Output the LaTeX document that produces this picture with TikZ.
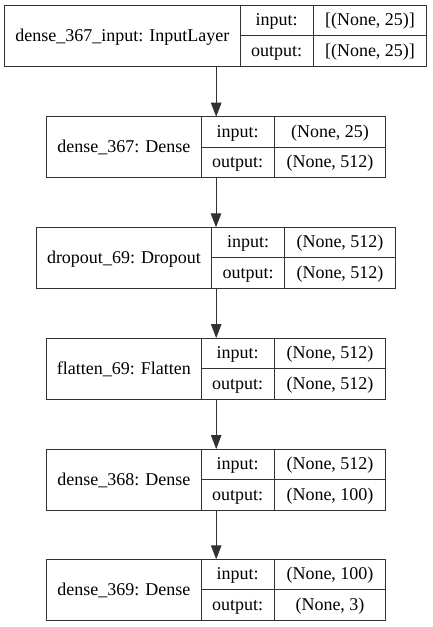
\documentclass[tikz,border=0pt]{standalone}
\usepackage{fontspec}
\setmainfont{Liberation Serif}
\usetikzlibrary{arrows.meta}
\definecolor{ln}{RGB}{50,50,50}
\tikzset{
  box/.style={draw=ln, line width=1pt, rectangle, inner sep=0pt, outer sep=0pt, anchor=north west},
  cell/.style={draw=ln, line width=1pt},
  txt/.style={font=\fontsize{18pt}{20pt}\selectfont, inner sep=0pt, anchor=base, text=black},
  arr/.style={draw=ln, line width=1pt, -{Triangle[length=14pt,width=10.5pt]}}
}
\newcommand\layer[9]{%
  \node[box, minimum width={#6pt-#3pt}, minimum height=61pt] (#1) at (#3pt,-#2pt) {};
  \draw[cell] (#4pt,-#2pt) -- (#4pt,-#2pt-61pt);
  \draw[cell] (#5pt,-#2pt) -- (#5pt,-#2pt-61pt);
  \draw[cell] (#4pt,-#2pt-30.5pt) -- (#6pt,-#2pt-30.5pt);
  \node[txt] (#1-l) at ({(#3+#4)/2*1pt},-#2pt-36pt) {#7};
  \node[txt] (#1-ik) at ({(#4+#5)/2*1pt},-#2pt-20.5pt) {input:};
  \node[txt] (#1-iv) at ({(#5+#6)/2*1pt},-#2pt-20.5pt) {#8};
  \node[txt] (#1-ok) at ({(#4+#5)/2*1pt},-#2pt-51pt) {output:};
  \node[txt] (#1-ov) at ({(#5+#6)/2*1pt},-#2pt-51pt) {#9};
}
\begin{document}
\begin{tikzpicture}
\useasboundingbox (0,0) rectangle (432pt,-627pt);
\layer{l1}{5}{4.7}{240}{313.3}{426.7}{dense\_367\_input: InputLayer}{[(None, 25)]}{[(None, 25)]}
\layer{l2}{116.7}{46.7}{201}{274.3}{385.7}{dense\_367: Dense}{(None, 25)}{(None, 512)}
\layer{l3}{227.3}{36.7}{211.3}{284.7}{395.3}{dropout\_69: Dropout}{(None, 512)}{(None, 512)}
\layer{l4}{338}{46.7}{201}{274.3}{385.7}{flatten\_69: Flatten}{(None, 512)}{(None, 512)}
\layer{l5}{449}{46.7}{201}{274.3}{385.7}{dense\_368: Dense}{(None, 512)}{(None, 100)}
\layer{l6}{559.3}{46.7}{201}{274.3}{385.7}{dense\_369: Dense}{(None, 100)}{(None, 3)}
\draw[arr] (l1.south -| l2.north) -- (l2.north);
\draw[arr] (l2.south -| l3.north) -- (l3.north);
\draw[arr] (l3.south -| l4.north) -- (l4.north);
\draw[arr] (l4.south -| l5.north) -- (l5.north);
\draw[arr] (l5.south -| l6.north) -- (l6.north);
\end{tikzpicture}
\end{document}
